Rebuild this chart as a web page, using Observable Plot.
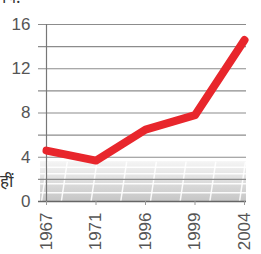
<!DOCTYPE html>
<html><head><meta charset="utf-8">
<script src="https://cdn.jsdelivr.net/npm/d3@7"></script>
<script src="https://cdn.jsdelivr.net/npm/@observablehq/plot@0.6"></script>
<style>
body{margin:0;background:#fff;}
#wrap{position:relative;width:261px;height:254px;overflow:hidden;background:#fff;}
.side{position:absolute;font-family:"Noto Sans","DejaVu Sans",sans-serif;color:#333;font-size:17px;line-height:1;}
</style>
</head><body><div id="wrap"></div>
<script>
const years = ["1967", "1971", "1996", "1999", "2004"];
const values = [4.6, 3.7, 6.5, 7.8, 14.6];
const yTickValues = [0, 4, 8, 12, 16];
const gridValues = [2, 4, 6, 8, 10, 12, 14, 16];
const floorTop = 3.6;
const floorRows = [0.8, 1.6, 2.5, 3.1];
const floorCols = [-0.1, 0.3, 0.9, 1.5, 2.1, 2.7, 3.3, 3.9];
const sideLabels = ["हीं", "पि."];

const data = values.map((v, i) => ({i, v, year: years[i]}));

const chart = Plot.plot({
  width: 261,
  height: 254,
  marginLeft: 46,
  marginRight: 17,
  marginTop: 24,
  marginBottom: 53,
  style: {fontFamily: "'Liberation Sans Narrow','Liberation Sans',sans-serif", fontSize: "17px", color: "#555", background: "transparent"},
  x: {type: "linear", domain: [0, years.length - 1], label: null},
  y: {domain: [0, 16], label: null},
  marks: [
    Plot.rect([floorTop], {x1: -0.12, x2: 4.04, y1: 0, y2: d => d, fill: "url(#floorGrad)"}),
    Plot.ruleY(floorRows, {x1: -0.12, x2: 4.04, stroke: "white", strokeWidth: 1.5, strokeOpacity: 0.9}),
    Plot.link(floorCols, {x1: d => d, y1: 0, x2: d => d + 0.12, y2: floorTop, stroke: "white", strokeWidth: 1.5, strokeOpacity: 0.9}),
    Plot.ruleY(gridValues, {stroke: "#8c8c8c", strokeWidth: 1.2, insetLeft: -8, insetRight: -2}),
    Plot.ruleX([0], {y1: 0, y2: 16, stroke: "#777", strokeWidth: 1.2}),
    Plot.ruleY([0], {stroke: "#666", strokeWidth: 1.3, insetLeft: -8, insetRight: -2}),
    Plot.axisY({ticks: yTickValues, tickSize: 0, tickPadding: 16, fill: "#555", label: null}),
    Plot.axisX({ticks: years.map((_, i) => i), tickFormat: i => years[i], tickRotate: -90, tickSize: 4, tickPadding: 7, stroke: "#999", fill: "#555", label: null}),
    Plot.line(data, {x: "i", y: "v", stroke: "#e8262c", strokeWidth: 8, strokeLinecap: "round", strokeLinejoin: "round"})
  ]
});

const defs = d3.select(chart).insert("defs", ":first-child");
const g = defs.append("linearGradient").attr("id", "floorGrad").attr("x1", 0).attr("y1", 0).attr("x2", 0).attr("y2", 1);
g.append("stop").attr("offset", "0%").attr("stop-color", "#f5f5f5");
g.append("stop").attr("offset", "100%").attr("stop-color", "#c6c6c6");

const wrap = document.getElementById("wrap");
wrap.appendChild(chart);
const a = document.createElement("div");
a.className = "side"; a.textContent = sideLabels[0];
a.style.left = "0px"; a.style.top = "172px";
wrap.appendChild(a);
const b = document.createElement("div");
b.className = "side"; b.textContent = sideLabels[1];
b.style.left = "2px"; b.style.top = "-12px";
wrap.appendChild(b);
</script>
</body></html>
